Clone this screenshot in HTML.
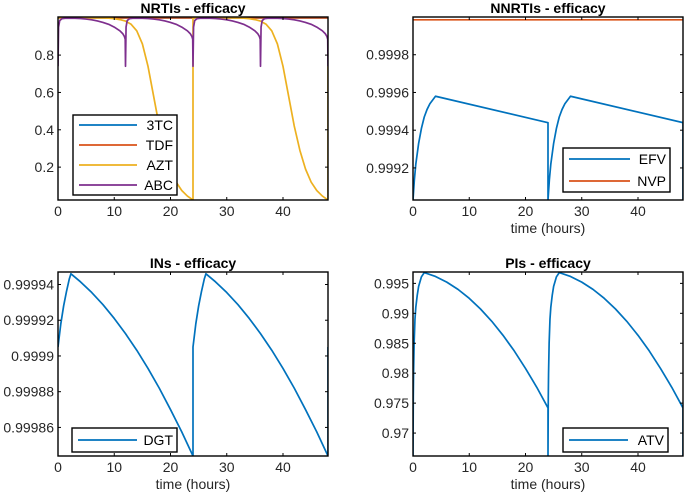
<!DOCTYPE html>
<html><head><meta charset="utf-8"><style>
html,body{margin:0;padding:0;background:#fff;}
svg text{font-family:"Liberation Sans",Arial,sans-serif;}
</style></head><body>
<svg id="fig" width="685" height="495" viewBox="0 0 685 495" xmlns="http://www.w3.org/2000/svg"></svg>
<script>
// ---- data ----
const xTicks = [0,10,20,30,40];
const nrtiYTicks = [0.2,0.4,0.6,0.8];
const nnrtiYTicks = [0.9992,0.9994,0.9996,0.9998];
const inYTicks = [0.99986,0.99988,0.9999,0.99992,0.99994];
const piYTicks = [0.97,0.975,0.98,0.985,0.99,0.995];
const nnrtiTickLabels = ["0.9992","0.9994","0.9996","0.9998"];
const inTickLabels = ["0.99986","0.99988","0.9999","0.99992","0.99994"];
const piTickLabels = ["0.97","0.975","0.98","0.985","0.99","0.995"];

const dose24 = [0,24];
const dose12 = [0,12,24,36];

const tc3T = [0,24], tc3V = [0.9995,0.9995];
const tdfT = [0,24], tdfV = [0.999,0.999];
const aztT = [0,2,4,6,8,9,10,11,12,13,14,15,16,17,18,19,20,21,22,23,24];
const aztV = [1,1,1,0.9995,0.999,0.998,0.995,0.99,0.982,0.965,0.93,0.86,0.74,0.58,0.42,0.29,0.19,0.12,0.075,0.045,0.024];
const abcT = [0,0.1,0.3,0.7,1.5,3,4,5,6,7,8,9,10,11,11.5,11.8,11.95,12];
const abcV = [0.74,0.95,0.985,0.995,0.998,0.997,0.996,0.993,0.989,0.983,0.975,0.965,0.95,0.93,0.915,0.9,0.885,0.74];

const efvT = [0,0.25,0.5,1,1.5,2,2.5,3,3.5,4,24];
const efvV = [0.99903,0.99914,0.99922,0.99933,0.99941,0.99947,0.99951,0.99954,0.99956,0.99958,0.99944];
const nvpT = [0,24], nvpV = [0.999985,0.999985];

const dgtT = [0,0.5,1,1.5,2,2.3,4,6,8,10,12,14,16,18,20,22,24];
const dgtV = [0.999905,0.999918,0.999928,0.999936,0.999943,0.999946,0.9999415,0.9999355,0.9999287,0.999921,0.9999125,0.9999032,0.999893,0.999882,0.99987,0.9998575,0.999844];

const atvT = [0,0.05,0.1,0.2,0.35,0.5,0.75,1,1.5,2,4,6,8,10,12,14,16,18,20,22,24];
const atvV = [0.96617,0.976,0.98,0.985,0.989,0.991,0.993,0.9945,0.9961,0.9968,0.99615,0.99521,0.994,0.9925,0.99072,0.98867,0.98633,0.98372,0.9808,0.97765,0.9742];

const C = {blue:"#0072BD", red:"#D95319", yellow:"#EDB120", purple:"#7E2F8E"};
const svg = document.getElementById('fig');
const NS = "http://www.w3.org/2000/svg";
function mk(tag, attrs, parent){ const e=document.createElementNS(NS,tag); for(const k in attrs) e.setAttribute(k,attrs[k]); (parent||svg).appendChild(e); return e; }

function panel(p){
  const g = mk('g',{});
  
  
  const sx = v => p.x0 + (v-0)/48*(p.x1-p.x0);
  const sy = v => p.y1 - (v-p.ymin)/(p.ymax-p.ymin)*(p.y1-p.y0);
  const clipId = 'c'+p.name;
  const cp = mk('clipPath',{id:clipId},g);
  mk('rect',{x:p.x0,y:p.y0,width:p.x1-p.x0,height:p.y1-p.y0},cp);
  p.series.forEach(s=>{
    let pts=[];
    s.doses.forEach((d,i)=>{
      s.t.forEach((t,j)=>{ pts.push([sx(d+t), sy(s.v[j])]); });
    });
    if(s.endV!==undefined) pts.push([sx(48), sy(s.endV)]);
    const pl = mk('polyline',{points:pts.map(q=>q[0].toFixed(2)+','+q[1].toFixed(2)).join(' '),fill:'none',stroke:s.color,'stroke-width':1.7,'stroke-linejoin':'round','clip-path':'url(#'+clipId+')'},g);
    
    
  });
  const fr = mk('rect',{x:p.x0,y:p.y0,width:p.x1-p.x0,height:p.y1-p.y0,fill:'none',stroke:'#000','stroke-width':1.4},g);
  
  
  xTicks.forEach(t=>{
    const X=sx(t);
    mk('line',{x1:X,x2:X,y1:p.y1,y2:p.y1-3,stroke:'#000'},g);
    mk('line',{x1:X,x2:X,y1:p.y0,y2:p.y0+3,stroke:'#000'},g);
    const tx=mk('text',{x:X,y:p.y1+16,'font-size':14,'text-anchor':'middle',fill:'#262626'},g);
    tx.textContent=t;
    
    
  });
  p.yTicks.forEach((v,i)=>{
    const Y=sy(v);
    mk('line',{x1:p.x0,x2:p.x0+3,y1:Y,y2:Y,stroke:'#000'},g);
    mk('line',{x1:p.x1,x2:p.x1-3,y1:Y,y2:Y,stroke:'#000'},g);
    const tx=mk('text',{x:p.x0-4,y:Y+5,'font-size':14,'text-anchor':'end',fill:'#262626'},g);
    tx.textContent=p.yLabels?p.yLabels[i]:String(v);
    
    
  });
  const ti=mk('text',{x:(p.x0+p.x1)/2,y:p.y0-4,'font-size':14,'font-weight':'bold','text-anchor':'middle',fill:'#000'},g);
  ti.textContent=p.title;
  
  
  if(p.xlabel){
    const xl=mk('text',{x:(p.x0+p.x1)/2,y:p.y1+33,'font-size':14,'text-anchor':'middle',fill:'#262626'},g);
    xl.textContent='time (hours)';
    
    
  }
  const L=p.legend;
  const lg=mk('g',{},g);
  
  
  mk('rect',{x:L.x,y:L.y,width:L.w,height:L.h,fill:'#fff',stroke:'#000','stroke-width':1.4},lg);
  const rowH=L.h/p.series.length;
  p.series.forEach((s,i)=>{
    const cy=L.y+rowH*(i+0.5);
    mk('line',{x1:L.x+6,x2:L.x+L.w-40,y1:cy,y2:cy,stroke:s.color,'stroke-width':1.7},lg);
    const tx=mk('text',{x:L.x+L.w-4,y:cy+5,'font-size':14,'text-anchor':'end',fill:'#000'},lg);
    tx.textContent=s.label;
    
    
  });
}

panel({name:'nrtis-panel',title:'NRTIs - efficacy',x0:58,x1:328,y0:17,y1:200,ymin:0.024,ymax:1.004,yTicks:nrtiYTicks,
  series:[
    {label:'3TC',color:C.blue,t:tc3T,v:tc3V,doses:[0,24]},
    {label:'TDF',color:C.red,t:tdfT,v:tdfV,doses:[0,24]},
    {label:'AZT',color:C.yellow,t:aztT,v:aztV,doses:dose24,endV:0.74},
    {label:'ABC',color:C.purple,t:abcT,v:abcV,doses:dose12}
  ],legend:{x:73,y:115,w:104,h:80}});
panel({name:'nnrtis-panel',title:'NNRTIs - efficacy',x0:413,x1:683,y0:17,y1:200,ymin:0.99903,ymax:1.0,yTicks:nnrtiYTicks,yLabels:nnrtiTickLabels,xlabel:true,
  series:[
    {label:'EFV',color:C.blue,t:efvT,v:efvV,doses:dose24,endV:0.99903},
    {label:'NVP',color:C.red,t:nvpT,v:nvpV,doses:[0,24]}
  ],legend:{x:563,y:148,w:107,h:44}});
panel({name:'ins-panel',title:'INs - efficacy',x0:58,x1:328,y0:272,y1:456,ymin:0.999844,ymax:0.999947,yTicks:inYTicks,yLabels:inTickLabels,xlabel:true,
  series:[
    {label:'DGT',color:C.blue,t:dgtT,v:dgtV,doses:dose24,endV:0.999905}
  ],legend:{x:72,y:428,w:105,h:24}});
panel({name:'pis-panel',title:'PIs - efficacy',x0:413,x1:683,y0:272,y1:456,ymin:0.96617,ymax:0.9969,yTicks:piYTicks,yLabels:piTickLabels,xlabel:true,
  series:[
    {label:'ATV',color:C.blue,t:atvT,v:atvV,doses:dose24,endV:0.96617}
  ],legend:{x:563,y:428,w:105,h:24}});
</script>
</body></html>
